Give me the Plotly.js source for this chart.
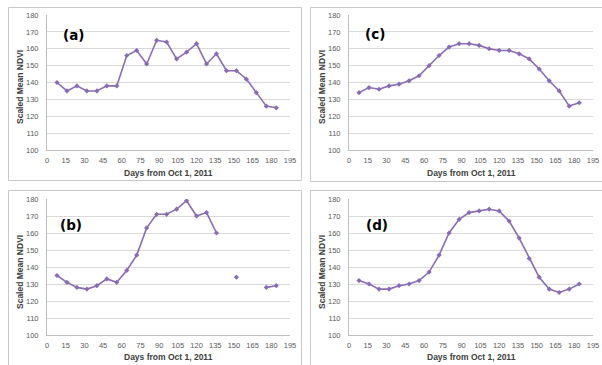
<!DOCTYPE html>
<html>
<head>
<meta charset="utf-8">
<script src="https://cdn.plot.ly/plotly-3.0.1.min.js"></script>
<style>html,body{margin:0;padding:0;background:#fff;}#chart{width:602px;height:365px;}</style>
</head>
<body>
<div id="chart"></div>
<script>
// Days from Oct 1, 2011 (8-day composites)
var days = [8,16,24,32,40,48,56,64,72,80,88,96,104,112,120,128,136,144,152,160,168,176,184];
// Scaled mean NDVI for each panel
var ndviA = [140,135,138,135,135,138,138,156,159,151,165,164,154,158,163,151,157,147,147,142,134,126,125];
var ndviB = [135,131,128,127,129,133,131,138,147,163,171,171,174,179,170,172,160,null,134,null,null,128,129];
var ndviC = [134,137,136,138,139,141,144,150,156,161,163,163,162,160,159,159,157,154,148,141,135,126,128];
var ndviD = [132,130,127,127,129,130,132,137,147,160,168,172,173,174,173,167,157,145,134,127,125,127,130];
var panelLabels = ['(a)','(b)','(c)','(d)'];
var xTitle = 'Days from Oct 1, 2011';
var yTitle = 'Scaled Mean NDVI';
var xTicks = [0,15,30,45,60,75,90,105,120,135,150,165,180,195];
var yTicks = [100,110,120,130,140,150,160,170,180];

(function(){
var W = 602, H = 365;
function px(x){return x/W;}
function py(y){return 1 - y/H;}

var lineColor = '#8a6cb6';
function trace(y, xa, ya){
  return {x: days, y: y, xaxis: xa, yaxis: ya, type: 'scatter', mode: 'lines+markers',
    connectgaps: false, line: {color: lineColor, width: 1.6},
    marker: {color: lineColor, size: 4, symbol: 'diamond'}, hoverinfo: 'skip'};
}

var data = [trace(ndviA,'x','y'), trace(ndviB,'x2','y2'), trace(ndviC,'x3','y3'), trace(ndviD,'x4','y4')];

var tickFont = {family: 'Liberation Sans, Arial, sans-serif', size: 7.5, color: '#595959'};
function xax(dom, anchor){
  return {domain: dom, anchor: anchor, range: [0,195], tickmode: 'array', tickvals: xTicks,
    showgrid: false, zeroline: false, showline: true, linecolor: '#bfbfbf', linewidth: 1,
    ticks: '', tickfont: tickFont, ticklabelstandoff: 3, fixedrange: true};
}
function yax(dom, anchor){
  return {domain: dom, anchor: anchor, range: [100,180], tickmode: 'array', tickvals: yTicks,
    showgrid: true, gridcolor: '#d9d9d9', gridwidth: 1, zeroline: false, showline: true,
    linecolor: '#bfbfbf', linewidth: 1, ticks: '', tickfont: tickFont, ticklabelstandoff: 6, fixedrange: true};
}

// plot area geometry (pixels)
var colL = [47,290], colR = [349,593];
var rowT = [15,150], rowB = [199,335];

var layout = {
  width: W, height: H, margin: {l:0,r:0,t:0,b:0},
  paper_bgcolor: '#ffffff', plot_bgcolor: '#ffffff', showlegend: false,
  xaxis:  xax([px(colL[0]), px(colL[1])], 'y'),
  yaxis:  yax([py(rowT[1]), py(rowT[0])], 'x'),
  xaxis2: xax([px(colL[0]), px(colL[1])], 'y2'),
  yaxis2: yax([py(rowB[1]), py(rowB[0])], 'x2'),
  xaxis3: xax([px(colR[0]), px(colR[1])], 'y3'),
  yaxis3: yax([py(rowT[1]), py(rowT[0])], 'x3'),
  xaxis4: xax([px(colR[0]), px(colR[1])], 'y4'),
  yaxis4: yax([py(rowB[1]), py(rowB[0])], 'x4'),
  shapes: [],
  annotations: []
};

var border = {color: '#c8c8c8', width: 1};
layout.shapes.push({type:'rect', xref:'paper', yref:'paper', x0:px(8.5), x1:px(301.5), y0:py(180.5), y1:py(7.5), line:border});
layout.shapes.push({type:'rect', xref:'paper', yref:'paper', x0:px(310.5), x1:px(640), y0:py(181.5), y1:py(7.5), line:border});
layout.shapes.push({type:'rect', xref:'paper', yref:'paper', x0:px(8.5), x1:px(301.5), y0:py(400), y1:py(190.5), line:border});
layout.shapes.push({type:'rect', xref:'paper', yref:'paper', x0:px(310.5), x1:px(640), y0:py(400), y1:py(190.5), line:border});

var titleFont = {family: 'Liberation Sans, Arial, sans-serif', size: 8.5, color: '#404040'};
var panels = [
  {lab: panelLabels[0], lx: 73,  ly: 35,  xt: [168,173], yt: [20,87]},
  {lab: panelLabels[1], lx: 71,  ly: 225, xt: [168,357], yt: [20,272]},
  {lab: panelLabels[2], lx: 375, ly: 34,  xt: [471,173], yt: [322,87]},
  {lab: panelLabels[3], lx: 377, ly: 225, xt: [471,357], yt: [322,272]}
];
panels.forEach(function(p){
  layout.annotations.push({xref:'paper', yref:'paper', x:px(p.lx), y:py(p.ly), xanchor:'center', yanchor:'middle',
    text:'<b>'+p.lab+'</b>', showarrow:false, font:{family:'DejaVu Sans, sans-serif', size:13.5, color:'#000'}});
  layout.annotations.push({xref:'paper', yref:'paper', x:px(p.xt[0]), y:py(p.xt[1]), xanchor:'center', yanchor:'middle',
    text:'<b>'+xTitle+'</b>', showarrow:false, font:titleFont});
  layout.annotations.push({xref:'paper', yref:'paper', x:px(p.yt[0]), y:py(p.yt[1]), xanchor:'center', yanchor:'middle',
    text:'<b>'+yTitle+'</b>', textangle:-90, showarrow:false, font:titleFont});
});

Plotly.newPlot('chart', data, layout, {displayModeBar:false, staticPlot:true});
})();
</script>
</body>
</html>
